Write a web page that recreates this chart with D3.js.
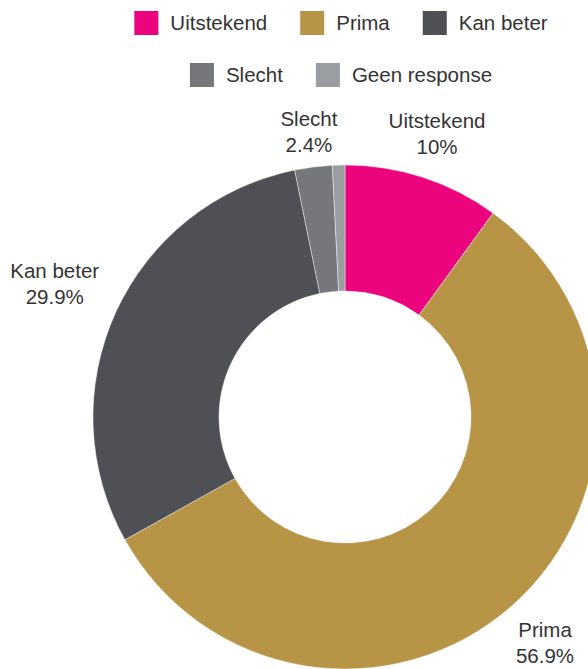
<!DOCTYPE html>
<html>
<head>
<meta charset="utf-8">
<script src="https://cdn.jsdelivr.net/npm/d3@7"></script>
<style>
  html, body { margin: 0; padding: 0; background: #fff; }
  svg { display: block; }
  text { font-family: "Liberation Sans", Arial, sans-serif; fill: #333; }
</style>
</head>
<body>
<svg id="chart" width="588" height="669"></svg>
<script>
const categories = ["Uitstekend", "Prima", "Kan beter", "Slecht", "Geen response"];
const values = [10, 56.9, 29.9, 2.4, 0.8];
const valueLabels = ["10%", "56.9%", "29.9%", "2.4%", null];
const colors = ["#EC047E", "#B89446", "#4F5055", "#76777B", "#9A9EA2"];
const legendRows = [["Uitstekend", "Prima", "Kan beter"], ["Slecht", "Geen response"]];

const W = 588, H = 669;
const cx = 345, cy = 417;
const outerR = 252, innerR = 126;
const labelR = 285;
const fontSize = 20.5;

const svg = d3.select("#chart");
const color = d3.scaleOrdinal().domain(categories).range(colors);

const data = categories.map((c, i) => ({ cat: c, value: values[i], label: valueLabels[i] }));
const pie = d3.pie().sort(null).value(d => d.value).startAngle(0).endAngle(2 * Math.PI);
const arcs = pie(data);
const arc = d3.arc().innerRadius(innerR).outerRadius(outerR);

const g = svg.append("g").attr("transform", `translate(${cx},${cy})`);
g.selectAll("path.slice").data(arcs).enter().append("path")
  .attr("class", "slice")
  .attr("d", arc)
  .attr("fill", d => color(d.data.cat))
  .attr("stroke", "rgba(255,255,255,0.6)")
  .attr("stroke-width", 0.7);

// Outside labels
const lab = g.selectAll("g.lab").data(arcs.filter(d => d.data.label)).enter().append("g").attr("class", "lab");
lab.each(function(d) {
  const a = (d.startAngle + d.endAngle) / 2;
  const gg = d3.select(this);
  const t = gg.append("text").attr("text-anchor", "middle").style("font-size", fontSize + "px");
  t.append("tspan").attr("x", 0).attr("dy", 0).text(d.data.cat);
  t.append("tspan").attr("x", 0).attr("dy", "1.28em").text(d.data.label);
  const bb = t.node().getBBox();
  const hw = bb.width / 2;
  const r = labelR + 0.85 * hw * Math.abs(Math.sin(a));
  const ax = r * Math.sin(a);
  const ay = -r * Math.cos(a);
  const blockCenterOffset = bb.y + bb.height / 2;
  gg.attr("transform", `translate(${ax},${ay - blockCenterOffset})`);
});

// Legend
const sq = 24, gapText = 12, gapItem = 33;
const legendCx = 341;
const rowY = [23, 75];
legendRows.forEach((row, ri) => {
  const rg = svg.append("g");
  let x = 0;
  row.forEach(cat => {
    const ig = rg.append("g").attr("transform", `translate(${x},0)`);
    ig.append("rect").attr("x", 0).attr("y", -sq / 2).attr("width", sq).attr("height", sq)
      .attr("fill", color(cat));
    const t = ig.append("text").attr("x", sq + gapText).attr("y", 0).attr("dy", "0.35em")
      .style("font-size", fontSize + "px").text(cat);
    x += sq + gapText + t.node().getComputedTextLength() + gapItem;
  });
  const totalW = x - gapItem;
  rg.attr("transform", `translate(${legendCx - totalW / 2},${rowY[ri]})`);
});
</script>
</body>
</html>
